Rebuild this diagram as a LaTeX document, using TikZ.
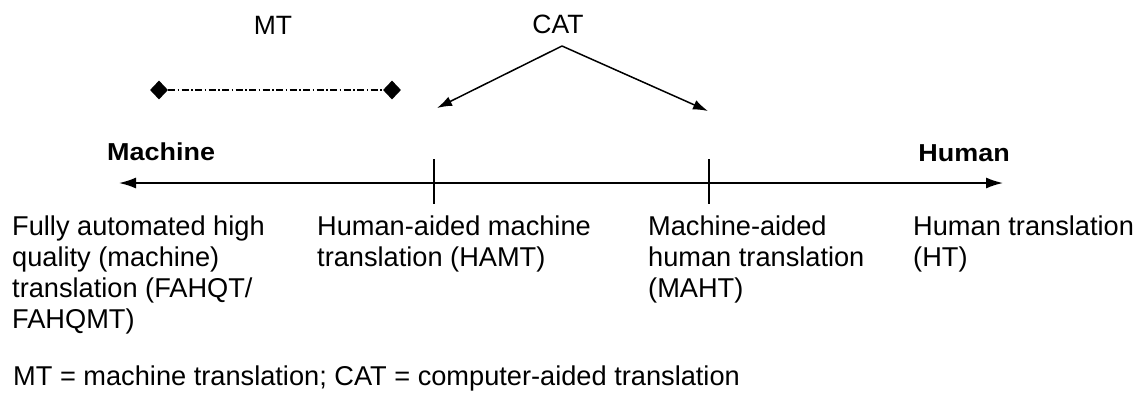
\documentclass[tikz,border=0pt]{standalone}
\usepackage{fontspec}
\setmainfont{Liberation Sans}
\newfontfamily\lblfont[FakeStretch=1.1]{Liberation Sans}
\usetikzlibrary{arrows.meta,shapes.geometric}
\tikzset{
  txt/.style={anchor=north west, inner sep=0pt, align=left,
    font=\fontsize{27.2}{30.8}\selectfont},
  toplbl/.style={anchor=base, inner sep=0pt, font=\fontsize{26.5}{30.8}\selectfont},
  endlbl/.style={inner sep=0pt, font=\lblfont\bfseries\fontsize{24.5}{28}\selectfont},
  axis/.style={line width=1.6pt, {Latex[length=17pt,width=11pt]}-{Latex[length=17pt,width=11pt]}},
  tick/.style={line width=1.6pt},
  catarrow/.style={line width=1.5pt, -{Latex[length=15pt,width=10pt]}},
  mtdia/.style={diamond, fill=black, inner sep=0pt, minimum width=18pt, minimum height=19pt},
  mtline/.style={line width=1.4pt, dash pattern=on 7pt off 2.5pt on 1.5pt off 2.5pt}
}
\begin{document}
\begin{tikzpicture}[x=1pt,y=-1pt]
\useasboundingbox (0,0) rectangle (1139,392);
% top labels
\node[toplbl] (mt) at (273,34) {MT};
\node[toplbl] (cat) at (558,33) {CAT};
% MT range
\node[mtdia] (d1) at (159,90) {};
\node[mtdia] (d2) at (392,90) {};
\draw[mtline] (d1.east) -- (d2.west);
% CAT arrows
\coordinate (apex) at (562,46);
\coordinate (hamtTip) at (437,108);
\coordinate (mahtTip) at (708,111);
\draw[catarrow] (apex) -- (hamtTip);
\draw[catarrow] (apex) -- (mahtTip);
% axis
\node[endlbl, anchor=base west] (machine) at (107,160) {Machine};
\node[endlbl, anchor=base east] (human) at (1010,161) {Human};
\coordinate (axL) at (119,183);
\coordinate (axR) at (1003,183);
\draw[axis] (axL) -- (axR);
\coordinate (t1a) at (434,159);
\coordinate (t1b) at (434,204);
\coordinate (t2a) at (709,159);
\coordinate (t2b) at (709,204);
\draw[tick] (t1a) -- (t1b);
\draw[tick] (t2a) -- (t2b);
% text blocks
\node[txt] (fahqt) at (12,216) {Fully automated high\\quality (machine)\\translation (FAHQT/\\FAHQMT)};
\node[txt] (hamt) at (317,216) {Human-aided machine\\translation (HAMT)};
\node[txt] (maht) at (648,216) {Machine-aided\\human translation\\(MAHT)};
\node[txt] (ht) at (913,216) {Human translation\\(HT)};
% footer
\node[anchor=base west, inner sep=0pt, font=\fontsize{27.2}{30.8}\selectfont] (foot) at (13,385) {MT = machine translation; CAT = computer-aided translation};
\end{tikzpicture}
\end{document}
